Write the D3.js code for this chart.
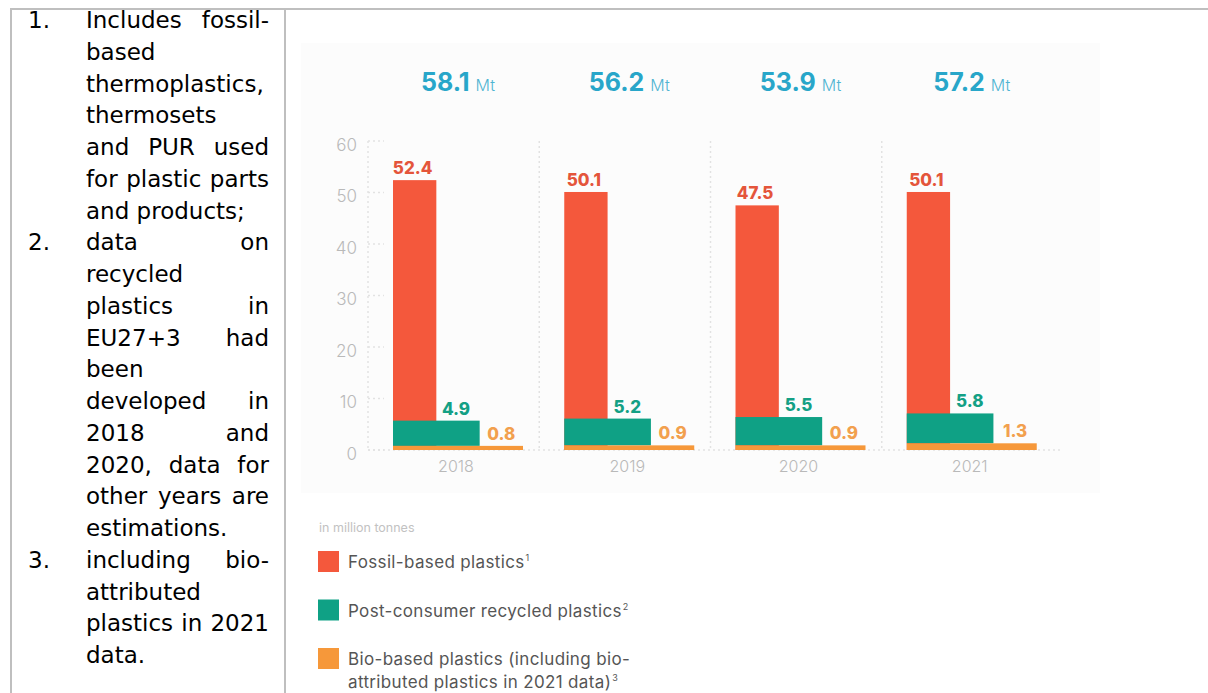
<!DOCTYPE html>
<meta charset="utf-8">
<title>Plastics in EU27+3</title>

<style>
body { margin: 0; background: #fff; }
#page { position: relative; width: 1208px; height: 693px; overflow: hidden; }
#page svg { position: absolute; left: 0; top: 0; }
.notes {
  position: absolute; left: 28px; top: 5px; width: 241px;
  font-family: "DejaVu Sans", Verdana, sans-serif;
  font-size: 23px; line-height: 31.75px; color: #000;
}
.note { display: flex; }
.num { width: 58px; flex: none; }
.body { flex: 1; }
.ln { text-align: justify; text-align-last: justify; white-space: nowrap; }
.ln.end { text-align-last: left; }
.axis text { font-family: Inter, sans-serif; font-weight: 300; fill: #b9b9b9; }
.axis path { display: none; }
</style>

<body>
<div id="page">
  <svg width="1208" height="693"></svg>
  <div class="notes"></div>
</div>

<script src="https://d3js.org/d3.v7.min.js"></script>

<script>

var years = ["2018", "2019", "2020", "2021"];
var fossil = [52.4, 50.1, 47.5, 50.1];
var recycled = [4.9, 5.2, 5.5, 5.8];
var bio = [0.8, 0.9, 0.9, 1.3];
var totals = [58.1, 56.2, 53.9, 57.2];
var yTicks = [0, 10, 20, 30, 40, 50, 60];

var legendItems = [
  {color: "#f4583c", lines: ["Fossil-based plastics"], sup: "1"},
  {color: "#0fa185", lines: ["Post-consumer recycled plastics"], sup: "2"},
  {color: "#f6983a", lines: ["Bio-based plastics (including bio-", "attributed plastics in 2021 data)"], sup: "3"}
];

var notes = [
  {num: "1.", lines: ["Includes fossil-", "based", "thermoplastics,", "thermosets", "and PUR used", "for plastic parts", "and products;"]},
  {num: "2.", lines: ["data on", "recycled", "plastics in", "EU27+3 had", "been", "developed in", "2018 and", "2020, data for", "other years are", "estimations."]},
  {num: "3.", lines: ["including bio-", "attributed", "plastics in 2021", "data."]}
];

// footnotes column
var note = d3.select(".notes").selectAll(".note")
  .data(notes)
  .enter().append("div")
    .attr("class", "note");
note.append("div").attr("class", "num").text(function(d) { return d.num; });
note.append("div").attr("class", "body")
  .selectAll(".ln")
  .data(function(d) { return d.lines.map(function(l, i) { return {t: l, end: i == d.lines.length - 1}; }); })
  .enter().append("div")
    .attr("class", function(d) { return d.end ? "ln end" : "ln"; })
    .text(function(d) { return d.t; });

var svg = d3.select("svg");

// table borders
svg.append("rect").attr("x", 10).attr("y", 8).attr("width", 1198).attr("height", 2).attr("fill", "#bfbfbf");
svg.append("rect").attr("x", 10).attr("y", 8).attr("width", 2).attr("height", 685).attr("fill", "#bfbfbf");
svg.append("rect").attr("x", 284).attr("y", 8).attr("width", 2).attr("height", 685).attr("fill", "#bfbfbf");

// faint picture background
svg.append("rect").attr("x", 301).attr("y", 43).attr("width", 799).attr("height", 450).attr("fill", "#fcfcfc");

var x = d3.scaleBand().domain(years).range([368, 1053]),
    x1 = d3.scaleBand().domain([0, 1, 2]).range([25, 155]),
    y = d3.scaleLinear().domain([0, 60]).range([450, 141]);

var sub = x1.bandwidth();
var mid = x1(0) + (x1(2) + sub - x1(0)) / 2;

var grid = svg.append("g")
    .attr("stroke", "#e2e2e2")
    .attr("stroke-width", 1.5)
    .attr("stroke-dasharray", "2,3");

grid.selectAll(".sep")
  .data(years)
  .enter().append("line")
    .attr("x1", function(d) { return x(d); })
    .attr("x2", function(d) { return x(d); })
    .attr("y1", y(60))
    .attr("y2", y(0));

grid.selectAll(".tk")
  .data(yTicks)
  .enter().append("line")
    .attr("x1", x(years[0]))
    .attr("x2", x(years[0]) + 16)
    .attr("y1", function(d) { return y(d); })
    .attr("y2", function(d) { return y(d); });

grid.append("line")
    .attr("x1", x(years[0]))
    .attr("x2", x(years[3]) + x.bandwidth() + 10)
    .attr("y1", y(0))
    .attr("y2", y(0));

// y axis labels
var ya = svg.append("g")
    .attr("class", "axis")
    .attr("transform", "translate(" + x(years[0]) + ",4)")
    .call(d3.axisLeft(y).tickValues(yTicks).tickSize(0).tickPadding(11));
ya.selectAll("text").style("font-size", "17px");

// x axis labels
var xa = svg.append("g")
    .attr("class", "axis")
    .attr("transform", "translate(" + (mid - x.bandwidth() / 2 - 2) + "," + (y(0) + 11) + ")")
    .call(d3.axisBottom(x).tickSize(0).tickPadding(0));
xa.selectAll("text").style("font-size", "16px");

var grp = svg.selectAll(".grp")
  .data(years)
  .enter().append("g")
    .attr("transform", function(d) { return "translate(" + x(d) + ",0)"; });

grp.append("rect")
    .attr("fill", "#f4583c")
    .attr("x", x1(0))
    .attr("width", sub)
    .attr("y", function(d, i) { return y(fossil[i]); })
    .attr("height", function(d, i) { return y(0) - y(fossil[i]); });

grp.append("rect")
    .attr("fill", "#0fa185")
    .attr("x", x1(0))
    .attr("width", x1(1) + sub - x1(0))
    .attr("y", function(d, i) { return y(bio[i] + recycled[i]); })
    .attr("height", function(d, i) { return y(bio[i]) - y(bio[i] + recycled[i]); });

grp.append("rect")
    .attr("fill", "#f6983a")
    .attr("x", x1(0))
    .attr("width", x1(2) + sub - x1(0))
    .attr("y", function(d, i) { return y(bio[i]); })
    .attr("height", function(d, i) { return y(0) - y(bio[i]); });

var lab = grp.append("g")
    .attr("text-anchor", "middle")
    .attr("font-family", "Inter, sans-serif")
    .attr("font-weight", 800)
    .attr("font-size", "17px");

lab.append("text")
    .attr("fill", "#e4553b")
    .attr("x", x1(0) + sub / 2 - 2)
    .attr("y", function(d, i) { return y(fossil[i]) - 6; })
    .text(function(d, i) { return fossil[i].toFixed(1); });

lab.append("text")
    .attr("fill", "#14a085")
    .attr("x", x1(1) + sub / 2 - 2)
    .attr("y", function(d, i) { return y(bio[i] + recycled[i]) - 6; })
    .text(function(d, i) { return recycled[i].toFixed(1); });

lab.append("text")
    .attr("fill", "#f2a04e")
    .attr("x", x1(2) + sub / 2)
    .attr("y", function(d, i) { return y(bio[i]) - 6; })
    .text(function(d, i) { return bio[i].toFixed(1); });

// totals on top
var tot = grp.append("text")
    .attr("x", mid)
    .attr("y", 91)
    .attr("text-anchor", "middle")
    .attr("font-family", "Inter, sans-serif")
    .attr("fill", "#28a6c9");
tot.append("tspan")
    .attr("font-weight", 700)
    .attr("font-size", "25px")
    .text(function(d, i) { return totals[i].toFixed(1); });
tot.append("tspan")
    .attr("font-size", "16px")
    .attr("font-weight", 300)
    .attr("fill", "#4fb4d2")
    .attr("dx", 6)
    .text("Mt");

// legend
var leg = svg.append("g")
    .attr("font-family", "Inter, sans-serif");

leg.append("text")
    .attr("x", 319)
    .attr("y", 532)
    .attr("font-size", "12.5px")
    .attr("fill", "#c2c2c2")
    .text("in million tonnes");

var li = leg.selectAll(".li")
  .data(legendItems)
  .enter().append("g")
    .attr("transform", function(d, i) { return "translate(318," + (551 + i * 48.5) + ")"; });

li.append("rect")
    .attr("width", 21)
    .attr("height", 21)
    .attr("fill", function(d) { return d.color; });

li.each(function(d) {
  var t = d3.select(this).append("text")
      .attr("font-size", "17px")
      .attr("letter-spacing", "0.35px")
      .attr("fill", "#555");
  d.lines.forEach(function(l, k) {
    t.append("tspan")
        .attr("x", 30)
        .attr("y", 17 + k * 23)
        .text(l);
    if (k == d.lines.length - 1) {
      t.append("tspan")
          .attr("font-size", "9px")
          .attr("dy", -7)
          .attr("dx", 1)
          .text(d.sup);
    }
  });
});

</script>
</body>
